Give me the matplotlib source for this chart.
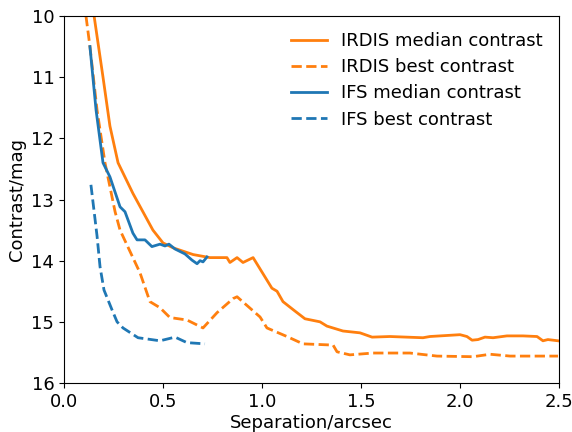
import matplotlib
matplotlib.use('Agg')
import matplotlib.pyplot as plt

# IRDIS median contrast
irdis_med_sep = [0.152, 0.197, 0.232, 0.273, 0.348, 0.449, 0.500, 0.551,
                 0.652, 0.737, 0.823, 0.838, 0.874, 0.904, 0.955, 1.050, 1.076, 1.106,
                 1.157, 1.217, 1.293, 1.328, 1.409, 1.495, 1.556, 1.646, 1.813, 1.848,
                 2.000, 2.035, 2.061, 2.091, 2.126, 2.167, 2.237, 2.318, 2.389, 2.419,
                 2.444, 2.495]
irdis_med_con = [10.0, 11.0, 11.8, 12.4, 12.9, 13.5, 13.71, 13.79,
                 13.9, 13.95, 13.95, 14.03, 13.95, 14.03, 13.95, 14.45, 14.5, 14.67,
                 14.8, 14.95, 15.0, 15.07, 15.15, 15.18, 15.25, 15.24, 15.26, 15.24,
                 15.21, 15.24, 15.3, 15.29, 15.25, 15.26, 15.23, 15.23, 15.24, 15.31,
                 15.29, 15.31]

# IRDIS best contrast
irdis_best_sep = [0.111, 0.131, 0.167, 0.207, 0.258, 0.283, 0.384, 0.434, 0.485, 0.535,
                  0.621, 0.702, 0.773, 0.854, 0.874, 0.990, 1.025, 1.126, 1.207, 1.359,
                  1.379, 1.444, 1.561, 1.747, 1.884, 2.066, 2.152, 2.253, 2.495]
irdis_best_con = [10.0, 10.5, 11.54, 12.4, 13.2, 13.5, 14.2, 14.67, 14.77, 14.93,
                  14.97, 15.1, 14.85, 14.62, 14.59, 14.92, 15.1, 15.24, 15.36, 15.38,
                  15.49, 15.54, 15.51, 15.51, 15.56, 15.57, 15.53, 15.56, 15.56]

# IFS median contrast
ifs_med_sep = [0.131, 0.162, 0.197, 0.232, 0.283, 0.308, 0.348, 0.369, 0.409,
               0.444, 0.485, 0.510, 0.530, 0.561, 0.611, 0.646, 0.672, 0.687, 0.702,
               0.722]
ifs_med_con = [10.5, 11.54, 12.4, 12.63, 13.12, 13.2, 13.55, 13.66, 13.66,
               13.77, 13.73, 13.76, 13.73, 13.81, 13.89, 13.99, 14.05, 14.0, 14.02,
               13.94]

# IFS best contrast
ifs_best_sep = [0.136, 0.167, 0.182, 0.202, 0.242, 0.268, 0.298, 0.374, 0.419, 0.485,
                0.561, 0.621, 0.712]
ifs_best_con = [12.76, 13.6, 14.1, 14.48, 14.8, 15.0, 15.1, 15.26, 15.28, 15.31,
                15.25, 15.34, 15.36]

plt.rcParams['font.size'] = 13

fig, ax = plt.subplots(figsize=(5.72, 4.32), dpi=100)
fig.subplots_adjust(left=64/572, right=559/572, top=1-16/432, bottom=1-383/432)

ax.plot(irdis_med_sep, irdis_med_con, color='C1', lw=2, label='IRDIS median contrast')
ax.plot(irdis_best_sep, irdis_best_con, color='C1', lw=2, ls='--', label='IRDIS best contrast')
ax.plot(ifs_med_sep, ifs_med_con, color='C0', lw=2, label='IFS median contrast')
ax.plot(ifs_best_sep, ifs_best_con, color='C0', lw=2, ls='--', label='IFS best contrast')

ax.set_xlim(0, 2.5)
ax.set_ylim(16, 10)
ax.set_xlabel('Separation/arcsec', labelpad=2)
ax.set_ylabel('Contrast/mag')
ax.legend(frameon=False, loc='upper right', labelspacing=0.45)

plt.savefig('out.png', dpi=100)
